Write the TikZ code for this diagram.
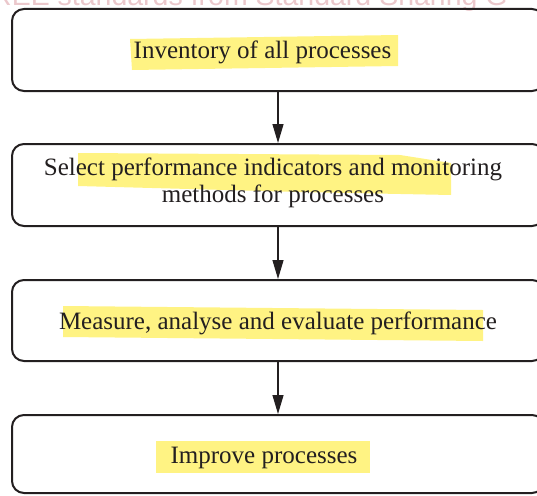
\documentclass[tikz,border=0pt]{standalone}
\usepackage{fontspec}
\setmainfont{Liberation Serif}
\newfontfamily\wmfont{Liberation Sans}
\usetikzlibrary{arrows.meta}
\definecolor{ink}{HTML}{231F20}
\definecolor{hl}{HTML}{FFF383}
\definecolor{wm}{HTML}{EBC8CC}
\begin{document}
\begin{tikzpicture}[x=1pt,y=-1pt,
  stepbox/.style={draw=ink,line width=2pt,rounded corners=12pt,minimum width=532pt,inner sep=0pt},
  lbl/.style={font=\fontsize{25}{27}\selectfont,text=ink,inner sep=0pt,align=center},
  hlshape/.style={fill=hl,draw=none},
  conn/.style={draw=ink,line width=1.2pt,-{Triangle[length=19pt,width=11pt]}}]
\useasboundingbox (0,0) rectangle (537,495);
\begin{scope}
\clip (0,0) rectangle (537,495);
% watermark
\node[anchor=base west,inner sep=0pt,text=wm,font=\wmfont\fontsize{28.5}{30}\selectfont] (wmark) at (-9,6) {REE standards from Standard Sharing G};
% highlights
\fill[hlshape] (130,39) -- (398,35) -- (398,66) -- (132,70) -- cycle;
\fill[hlshape] (78,153) -- (400,155) -- (451,163) -- (451,195) -- (300,192) -- (78,186) -- cycle;
\fill[hlshape] (63,306) -- (483,310) -- (483,341) -- (63,337) -- cycle;
\fill[hlshape] (156,441) -- (370,441) -- (370,473) -- (156,473) -- cycle;
% boxes
\node[stepbox,minimum height=82pt] (b1) at (278,50) {};
\node[stepbox,minimum height=82pt] (b2) at (278,185) {};
\node[stepbox,minimum height=81pt] (b3) at (278,320.5) {};
\node[stepbox,minimum height=78pt] (b4) at (278,454) {};
% labels
\node[lbl,anchor=base] (t1) at (262.5,58) {Inventory of all processes};
\node[lbl,anchor=base] (t2) at (273,202) {Select performance indicators and monitoring\\methods for processes};
\node[lbl,anchor=base] (t3) at (278,329) {Measure, analyse and evaluate performance};
\node[lbl,anchor=base] (t4) at (264,463) {Improve processes};
% connectors
\draw[conn] (b1.south) -- (b2.north);
\draw[conn] (b2.south) -- (b3.north);
\draw[conn] (b3.south) -- (b4.north);
\end{scope}
\end{tikzpicture}
\end{document}
